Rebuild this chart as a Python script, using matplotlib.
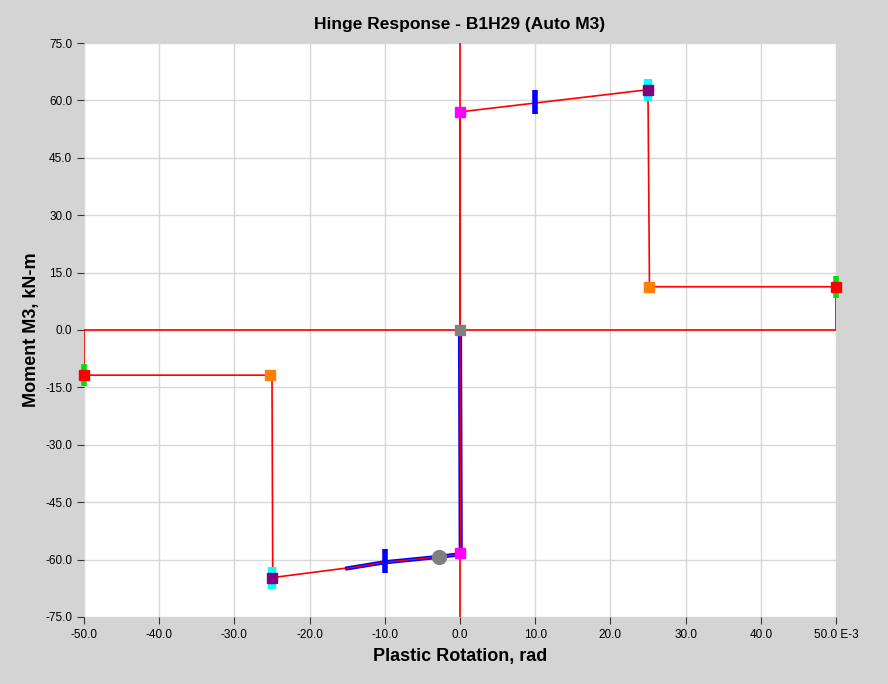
import matplotlib
matplotlib.use("Agg")
import matplotlib.pyplot as plt

plt.rcParams['font.family'] = ['Liberation Sans', 'DejaVu Sans']

# backbone curve (red), rotation in E-3 rad, moment in kN-m
backbone_x = [-50, -50, -25, -24.9, 0, 0, 0, 25, 25.2, 50, 50]
backbone_y = [0, -11.8, -11.8, -64.7, -58.4, 0, 57.0, 62.8, 11.3, 11.3, 0]

# hysteresis path (blue)
hyst_x = [0, 0.1, 0, -2.8, -10, -15]
hyst_y = [0, -58.0, -58.6, -59.3, -60.7, -62.3]

# backbone point markers
pt_a = (0, 0)
pt_b = ([0, 0], [57.0, -58.4])
pt_c = ([25, -25], [62.8, -64.7])
pt_d = ([25.2, -25.2], [11.3, -11.8])
pt_e = ([50, -50], [11.3, -11.8])
io_x = [10, -10]
io_y = [59.5, -60.5]
current = (-2.8, -59.3)

x_ticks = [-50, -40, -30, -20, -10, 0, 10, 20, 30, 40, 50]
x_labels = ['-50.0', '-40.0', '-30.0', '-20.0', '-10.0', '0.0', '10.0', '20.0', '30.0', '40.0', '50.0 E-3']
y_ticks = [-75, -60, -45, -30, -15, 0, 15, 30, 45, 60, 75]

fig = plt.figure(figsize=(8.88, 6.84), dpi=100, facecolor='#d4d4d4')
ax = fig.add_axes([0.0946, 0.098, 0.8468, 0.8391])
ax.set_facecolor('white')

# reference axes lines drawn in red
ax.plot([0, 0], [-75, 75], color='red', lw=1.2, zorder=2)
ax.plot([-50, 50], [0, 0], color='red', lw=1.2, zorder=2)
ax.plot(backbone_x, backbone_y, color='red', lw=1.2, zorder=2)

ax.plot(hyst_x, hyst_y, color='blue', lw=3.0, zorder=3)
ax.plot(hyst_x, hyst_y, color='red', lw=0.9, zorder=3)

# markers
ax.plot(*pt_c, ls='none', marker='|', ms=16, mew=6, color='cyan', zorder=4, clip_on=False)
ax.plot(*pt_e, ls='none', marker='|', ms=16, mew=4, color='#00e000', zorder=4, clip_on=False)
ax.plot(io_x, io_y, ls='none', marker='|', ms=17, mew=4, color='blue', zorder=5)
ax.plot(*pt_b, ls='none', marker='s', ms=7.5, color='magenta', zorder=6)
ax.plot(*pt_c, ls='none', marker='s', ms=7.5, color='purple', zorder=6)
ax.plot(*pt_d, ls='none', marker='s', ms=7, color='#ff8000', zorder=6)
ax.plot(*pt_e, ls='none', marker='s', ms=7.5, color='red', zorder=6, clip_on=False)
ax.plot(*pt_a, ls='none', marker='s', ms=7, color='gray', zorder=6)
ax.plot(*current, ls='none', marker='o', ms=10, color='gray', zorder=6)

ax.set_xlim(-50, 50)
ax.set_ylim(-75, 75)
ax.set_xticks(x_ticks)
ax.set_xticklabels(x_labels)
ax.set_yticks(y_ticks)
ax.set_yticklabels([f'{v:.1f}' for v in y_ticks])
ax.grid(True, color='#d8d8d8', lw=1)
ax.set_axisbelow(True)
for s in ax.spines.values():
    s.set_visible(False)
ax.tick_params(labelsize=8.5, length=5, color='#333333', direction='out')

ax.set_title('Hinge Response - B1H29 (Auto M3)', fontsize=12.5, fontweight='bold', pad=10)
ax.set_xlabel('Plastic Rotation, rad', fontsize=13, fontweight='bold', labelpad=5)
ax.set_ylabel('Moment M3, kN-m', fontsize=13, fontweight='bold', labelpad=4)

fig.savefig('out.png', dpi=100, facecolor=fig.get_facecolor())
